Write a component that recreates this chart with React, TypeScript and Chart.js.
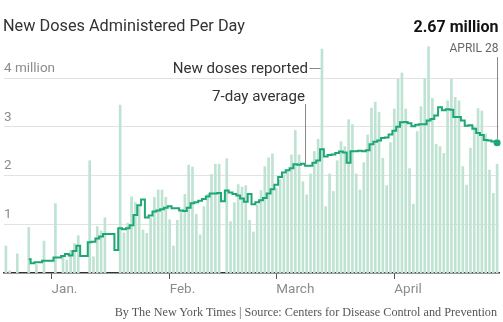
import React, { useEffect, useRef } from "react";
import { Chart, registerables } from "chart.js";

Chart.register(...registerables);

const categories = [
  "12/20", "12/21", "12/22", "12/23", "12/24", "12/25", "12/26", "12/27", "12/28", "12/29", "12/30", "12/31",
  "1/1", "1/2", "1/3", "1/4", "1/5", "1/6", "1/7", "1/8", "1/9", "1/10", "1/11", "1/12", "1/13", "1/14", "1/15",
  "1/16", "1/17", "1/18", "1/19", "1/20", "1/21", "1/22", "1/23", "1/24", "1/25", "1/26", "1/27", "1/28", "1/29",
  "1/30", "1/31",
  "2/1", "2/2", "2/3", "2/4", "2/5", "2/6", "2/7", "2/8", "2/9", "2/10", "2/11", "2/12", "2/13", "2/14", "2/15",
  "2/16", "2/17", "2/18", "2/19", "2/20", "2/21", "2/22", "2/23", "2/24", "2/25", "2/26", "2/27", "2/28",
  "3/1", "3/2", "3/3", "3/4", "3/5", "3/6", "3/7", "3/8", "3/9", "3/10", "3/11", "3/12", "3/13", "3/14", "3/15",
  "3/16", "3/17", "3/18", "3/19", "3/20", "3/21", "3/22", "3/23", "3/24", "3/25", "3/26", "3/27", "3/28", "3/29",
  "3/30", "3/31",
  "4/1", "4/2", "4/3", "4/4", "4/5", "4/6", "4/7", "4/8", "4/9", "4/10", "4/11", "4/12", "4/13", "4/14", "4/15",
  "4/16", "4/17", "4/18", "4/19", "4/20", "4/21", "4/22", "4/23", "4/24", "4/25", "4/26", "4/27", "4/28",
];

// New doses reported per day (millions)
const doses = [
  0.56, 0.05, 0, 0.40, 0, 0, 0.94, 0, 0.18, 0,
  0.66, 0, 0, 1.43, 0, 0.35, 0.27, 0.47, 0.61, 0.77,
  0, 0, 2.31, 0.34, 0.96, 0.87, 1.14, 0, 0, 0,
  3.45, 0.83, 1.03, 1.57, 1.45, 1.37, 0.89, 0.82, 1.14, 1.56,
  1.71, 1.71, 1.56, 1.10, 0.56, 1.09, 1.26, 1.62, 2.22, 2.18,
  1.21, 0.79, 1.37, 1.62, 2.03, 2.24, 2.24, 0, 2.35, 1.06,
  1.45, 1.82, 1.77, 1.80, 1.09, 0.85, 1.40, 1.70, 2.19, 2.37,
  2.45, 1.74, 1.92, 2.02, 2.09, 2.43, 2.93, 2.43, 1.88, 1.61,
  2.04, 2.50, 2.75, 4.60, 1.37, 2.04, 1.68, 2.31, 2.70, 2.60,
  3.15, 3.05, 2.04, 1.71, 2.27, 2.84, 3.39, 3.51, 3.30, 2.36,
  1.80, 2.68, 3.37, 3.98, 4.11, 3.37, 2.15, 1.42, 2.91, 3.42,
  4.00, 4.65, 3.59, 2.65, 2.60, 2.46, 3.54, 3.98, 3.61, 3.54,
  2.19, 1.81, 2.57, 3.00, 3.38, 3.33, 2.86, 2.12, 1.64, 2.24,
];

// 7-day average (millions)
const sevenDayAvg = [
  null, null, null, null, null, null, 0.28, 0.20, 0.22, 0.22,
  0.25, 0.25, 0.25, 0.32, 0.32, 0.35, 0.39, 0.36, 0.45, 0.56,
  0.35, 0.35, 0.63, 0.64, 0.71, 0.75, 0.80, 0.80, 0.80, 0.47,
  0.92, 0.90, 0.92, 0.98, 1.19, 1.39, 1.51, 1.14, 1.18, 1.26,
  1.28, 1.31, 1.34, 1.37, 1.33, 1.33, 1.28, 1.27, 1.34, 1.43,
  1.45, 1.48, 1.52, 1.57, 1.63, 1.63, 1.64, 1.47, 1.69, 1.65,
  1.62, 1.59, 1.53, 1.46, 1.62, 1.41, 1.45, 1.49, 1.54, 1.63,
  1.72, 1.81, 1.97, 2.06, 2.11, 2.15, 2.23, 2.22, 2.24, 2.20,
  2.20, 2.26, 2.31, 2.54, 2.39, 2.42, 2.43, 2.46, 2.49, 2.47,
  2.26, 2.50, 2.50, 2.51, 2.50, 2.52, 2.64, 2.69, 2.72, 2.77,
  2.78, 2.84, 2.92, 3.00, 3.09, 3.10, 3.07, 3.01, 3.04, 3.05,
  3.05, 3.13, 3.16, 3.23, 3.40, 3.34, 3.36, 3.35, 3.20, 3.20,
  3.13, 3.02, 3.03, 2.96, 2.87, 2.83, 2.73, 2.72, 2.70, 2.67,
];

const tickDates = ["1/1", "2/1", "3/1", "4/1"];
const tickLabels = ["Jan.", "Feb.", "March", "April"];
const yTickValues = [1, 2, 3, 4];

const title = "New Doses Administered Per Day";
const latestValueLabel = "2.67 million";
const latestDateLabel = "APRIL 28";
const barsLabel = "New doses reported";
const avgLabel = "7-day average";
const credit = "By The New York Times | Source: Centers for Disease Control and Prevention";

const peakBarDate = "3/13";
const avgPointerDate = "3/9";

const GREEN = "#1fa676";
const BAR = "#bfe3d3";
const SANS = "Roboto, 'Noto Sans', sans-serif";

export default function App() {
  const ref = useRef<HTMLCanvasElement | null>(null);

  useEffect(() => {
    if (!ref.current) return;
    const lastIdx = categories.length - 1;
    const annot = {
      id: "annot",
      afterDatasetsDraw(chart: any) {
        const { ctx, scales } = chart;
        const x = scales.x;
        const y = scales.y;
        ctx.save();
        ctx.strokeStyle = "#8a8a8a";
        ctx.lineWidth = 1;
        // New doses reported connector
        const pi = categories.indexOf(peakBarDate);
        const px = x.getPixelForValue(pi) - 1.3;
        ctx.beginPath();
        ctx.moveTo(309.5, 68.5);
        ctx.lineTo(px, 68.5);
        ctx.stroke();
        // 7-day average connector
        const ai = categories.indexOf(avgPointerDate);
        const ax = Math.round(x.getPixelForValue(ai) - 1.5) + 0.5;
        ctx.beginPath();
        ctx.moveTo(ax, 104);
        ctx.lineTo(ax, y.getPixelForValue(sevenDayAvg[ai] as number) - 1);
        ctx.stroke();
        // Latest value connector
        const lx = Math.round(x.getPixelForValue(lastIdx)) + 0.5;
        ctx.beginPath();
        ctx.moveTo(lx, 57);
        ctx.lineTo(lx, y.getPixelForValue(sevenDayAvg[lastIdx] as number) - 4);
        ctx.stroke();
        ctx.restore();
      },
    };

    const chart = new Chart(ref.current, {
      type: "bar",
      data: {
        labels: categories,
        datasets: [
          {
            type: "line",
            data: sevenDayAvg,
            borderColor: GREEN,
            backgroundColor: GREEN,
            borderWidth: 2,
            stepped: "middle",
            pointRadius: (c: any) => (c.dataIndex === lastIdx ? 3.5 : 0),
            pointBorderWidth: 0,
            pointBackgroundColor: GREEN,
            spanGaps: false,
            order: 0,
          } as any,
          {
            type: "bar",
            data: doses,
            backgroundColor: BAR,
            barPercentage: 0.7,
            categoryPercentage: 1,
            order: 1,
          },
        ],
      },
      options: {
        animation: false,
        responsive: false,
        maintainAspectRatio: false,
        layout: { padding: { left: 4, right: 4, top: 39, bottom: 22 } },
        plugins: { legend: { display: false }, tooltip: { enabled: false } },
        scales: {
          x: {
            type: "category",
            offset: true,
            afterFit: (s: any) => {
              s.height = 27;
            },
            grid: {
              offset: false,
              drawOnChartArea: false,
              drawTicks: true,
              tickLength: 6,
              color: (c: any) =>
                tickDates.includes(categories[c.index]) ? "#555" : "rgba(0,0,0,0)",
            },
            border: { display: true, color: "#333", width: 1.5 },
            ticks: {
              autoSkip: false,
              maxRotation: 0,
              minRotation: 0,
              align: "start",
              padding: 3,
              color: "#8c8c8c",
              font: { family: SANS, size: 13.5 },
              callback: (_v: any, i: number) => {
                const k = tickDates.indexOf(categories[i]);
                return k >= 0 ? tickLabels[k] : "";
              },
            },
          },
          y: {
            min: 0,
            max: 4.8,
            afterFit: (s: any) => {
              s.width = 0;
            },
            afterBuildTicks: (s: any) => {
              s.ticks = yTickValues.map((v) => ({ value: v }));
            },
            grid: { color: "#e2e2e2", lineWidth: 1, drawTicks: false },
            border: { display: false },
            ticks: {
              mirror: true,
              padding: 0,
              labelOffset: -9.5,
              color: "#8c8c8c",
              font: { family: SANS, size: 13.5 },
              callback: (v: any) => (v === 4 ? "4 million" : String(v)),
            },
          },
        },
      },
      plugins: [annot],
    });
    return () => chart.destroy();
  }, []);

  const base: React.CSSProperties = {
    position: "absolute",
    whiteSpace: "nowrap",
    fontFamily: SANS,
    margin: 0,
  };

  return (
    <div style={{ position: "absolute", left: 0, top: 0, width: 503, height: 322, background: "#fff" }}>
      <canvas ref={ref} width={503} height={322} style={{ position: "absolute", left: 0, top: 0, width: 503, height: 322 }} />
      <div style={{ ...base, left: 3, top: 16, fontSize: 16.3, lineHeight: "20px", color: "#333" }}>{title}</div>
      <div style={{ ...base, right: 4.5, top: 17, fontSize: 16, lineHeight: "20px", fontWeight: 700, color: "#121212" }}>
        {latestValueLabel}
      </div>
      <div style={{ ...base, right: 4.5, top: 41, fontSize: 12, lineHeight: "14px", color: "#666" }}>{latestDateLabel}</div>
      <div style={{ ...base, right: 195, top: 59, fontSize: 15.1, lineHeight: "18px", color: "#333" }}>{barsLabel}</div>
      <div style={{ ...base, right: 198, top: 86.5, fontSize: 15.1, lineHeight: "18px", color: "#333" }}>{avgLabel}</div>
      <div
        style={{
          ...base,
          right: 6,
          top: 304.5,
          fontSize: 12.2,
          lineHeight: "14px",
          color: "#555",
          fontFamily: "'Liberation Serif', 'DejaVu Serif', serif",
        }}
      >
        {credit}
      </div>
    </div>
  );
}
